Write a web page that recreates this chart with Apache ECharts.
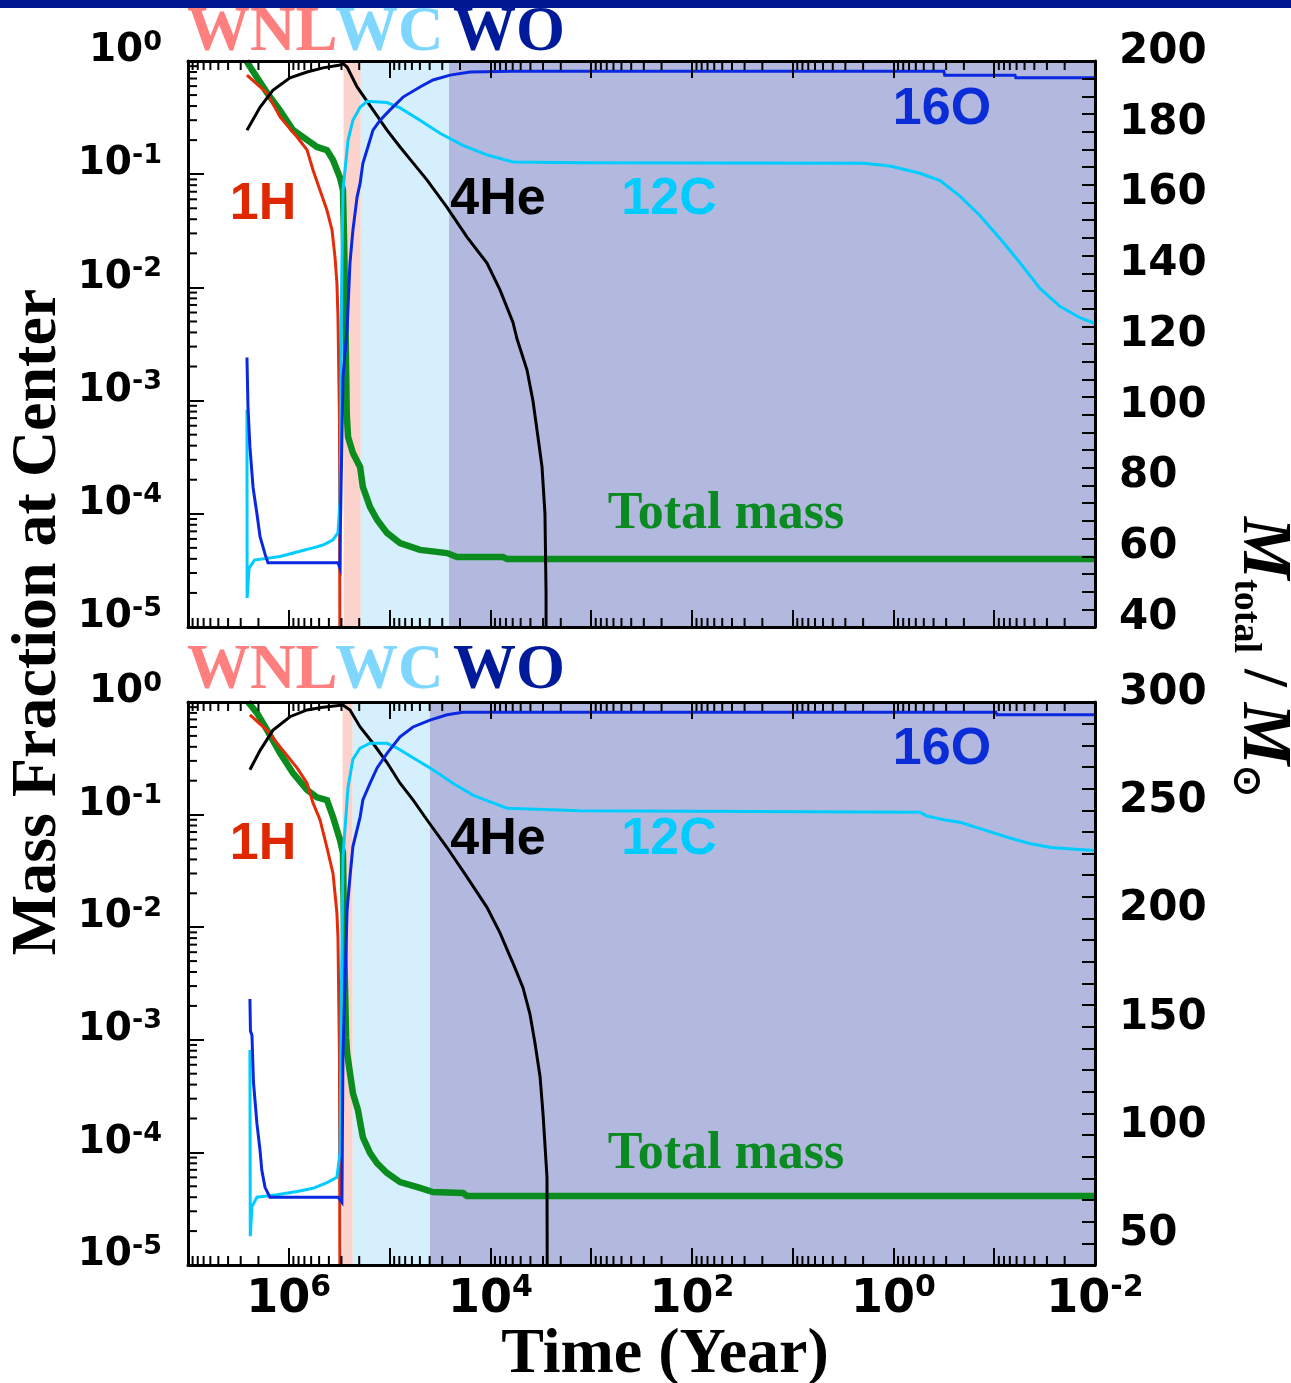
<!DOCTYPE html>
<html>
<head>
<meta charset="utf-8">
<script src="https://cdn.jsdelivr.net/npm/echarts@6/dist/echarts.min.js"></script>
<style>
  html, body { margin: 0; padding: 0; background: #ffffff; }
  #chart { width: 1291px; height: 1383px; }
</style>
</head>
<body>
<div id="chart"></div>
<script>
// Central composition and total mass versus time remaining before core collapse.
// Each pair is [time before collapse (yr), value].

// ---- upper model ----
const topH = [[2.60e6,0.75],[1.64e6,0.52],[1.22e6,0.32],[8.28e5,0.213],[6.59e5,0.164],[5.75e5,0.109],[4.90e5,0.072],[4.18e5,0.048],[3.72e5,0.032],[3.48e5,0.0186],[3.33e5,0.011],[3.25e5,0.0055],[3.14e5,6.7e-4],[3.07e5,1e-8]];
const topHe = [[2.60e6,0.245],[1.93e6,0.39],[1.44e6,0.55],[9.73e5,0.71],[6.59e5,0.80],[4.57e5,0.87],[3.10e5,0.92],[2.90e5,0.95],[2.64e5,0.885],[2.10e5,0.59],[1.46e5,0.37],[1.06e5,0.245],[7.87e4,0.174],[5.85e4,0.126],[4.26e4,0.089],[2.69e4,0.051],[1.71e4,0.0279],[1.08e4,0.0164],[8.02e3,0.0095],[5.96e3,0.0049],[5.43e3,0.0035],[4.33e3,0.00187],[3.78e3,1.0e-3],[3.37e3,4.8e-4],[3.07e3,2.6e-4],[2.87e3,1.0e-4],[2.80e3,2e-5],[2.77e3,1e-8]];
const topC = [[2.60e6,8.3e-4],[2.59e6,1.8e-5],[2.48e6,3.3e-5],[2.19e6,3.9e-5],[1.22e6,4.2e-5],[8.28e5,4.6e-5],[5.75e5,5.0e-5],[4.57e5,5.3e-5],[3.64e5,5.9e-5],[3.25e5,6.8e-5],[3.10e5,1.3e-4],[2.99e5,0.01],[2.90e5,0.072],[2.58e5,0.20],[2.31e5,0.30],[1.96e5,0.39],[1.67e5,0.44],[1.06e5,0.43],[7.87e4,0.385],[4.99e4,0.30],[3.16e4,0.23],[1.87e4,0.18],[1.08e4,0.148],[5.96e3,0.128],[1.29e3,0.126],[1.96,0.125],[1.08,0.118],[0.546,0.102],[0.345,0.088],[0.219,0.064],[0.138,0.043],[0.0877,0.027],[0.0555,0.0165],[0.0352,0.0098],[0.0223,0.0068],[0.0141,0.0054],[0.01,0.0048]];
const topO = [[2.60e6,2.4e-3],[2.54e6,8.8e-4],[2.43e6,3.9e-4],[2.26e6,1.7e-4],[2.07e6,1.0e-4],[1.93e6,6.3e-5],[1.72e6,4.4e-5],[1.61e6,3.7e-5],[3.25e5,3.7e-5],[3.10e5,3.3e-5],[3.08e5,7e-5],[2.90e5,1.6e-3],[2.64e5,4.2e-3],[2.47e5,0.0165],[2.31e5,0.032],[2.10e5,0.063],[1.96e5,0.083],[1.84e5,0.125],[1.64e5,0.174],[1.46e5,0.245],[1.24e5,0.30],[9.89e4,0.37],[7.35e4,0.48],[4.99e4,0.59],[3.71e4,0.68],[2.51e4,0.75],[1.59e4,0.80],[5.96e3,0.81],[0.316,0.81],[0.31,0.75],[0.0622,0.75],[0.061,0.71],[0.01,0.71]];
const topMass = [[2.63e6,200],[2.32e6,197.5],[1.64e6,191],[1.22e6,186],[9.08e5,180.5],[6.59e5,177.7],[5.25e5,175.7],[4.18e5,174.8],[3.64e5,172],[3.10e5,167],[2.90e5,163.5],[2.83e5,150],[2.75e5,130],[2.66e5,100],[2.58e5,93.7],[2.31e5,89.2],[1.96e5,85.2],[1.84e5,79.6],[1.56e5,73.9],[1.33e5,70.3],[1.06e5,66.6],[7.87e4,63.7],[4.99e4,61.8],[2.69e4,60.9],[2.14e4,59.8],[7.48e3,59.8],[6.84e3,59.2],[0.01,59.2]];
// Wolf-Rayet phases: [start, end, phase index]
const topStages = [[2.86e5,1.93e5,0],[1.93e5,2.57e4,1],[2.57e4,0.01,2]];

// ---- lower model ----
const botH = [[2.43e6,0.77],[1.64e6,0.56],[1.22e6,0.40],[8.28e5,0.26],[6.59e5,0.19],[5.75e5,0.127],[4.90e5,0.090],[4.18e5,0.051],[3.64e5,0.030],[3.48e5,0.020],[3.33e5,0.0134],[3.25e5,0.0081],[3.14e5,7e-4],[3.07e5,1e-8]];
const botHe = [[2.43e6,0.25],[1.93e6,0.37],[1.44e6,0.56],[9.73e5,0.74],[6.59e5,0.85],[4.57e5,0.90],[2.90e5,0.94],[2.47e5,0.85],[1.96e5,0.60],[1.46e5,0.43],[1.06e5,0.29],[7.87e4,0.19],[5.85e4,0.135],[4.26e4,0.090],[2.69e4,0.051],[1.71e4,0.028],[1.08e4,0.015],[8.02e3,0.0089],[6.38e3,0.0055],[5.96e3,0.0048],[4.74e3,0.0029],[4.05e3,0.0017],[3.61e3,9.4e-4],[3.21e3,4.7e-4],[3.00e3,2.2e-4],[2.74e3,6e-5],[2.68e3,1e-8]];
const botC = [[2.43e6,8.1e-4],[2.41e6,1.8e-5],[2.32e6,3.3e-5],[2.07e6,4.0e-5],[1.31e6,4.2e-5],[8.28e5,4.5e-5],[5.75e5,4.8e-5],[4.18e5,5.4e-5],[3.33e5,6.0e-5],[3.10e5,1.0e-4],[3.00e5,3e-3],[2.90e5,0.042],[2.58e5,0.176],[2.31e5,0.31],[1.96e5,0.39],[1.56e5,0.43],[1.06e5,0.43],[8.43e4,0.39],[5.85e4,0.32],[3.71e4,0.25],[2.35e4,0.19],[1.49e4,0.149],[9.42e3,0.127],[6.84e3,0.114],[1.29e3,0.108],[0.546,0.105],[0.465,0.097],[0.316,0.090],[0.214,0.085],[0.113,0.071],[0.0698,0.062],[0.0432,0.055],[0.0274,0.051],[0.0144,0.049],[0.01,0.048]];
const botO = [[2.43e6,2.3e-3],[2.40e6,1.2e-3],[2.32e6,1.1e-3],[2.24e6,4.2e-4],[2.07e6,1.8e-4],[1.93e6,1.05e-4],[1.85e6,6.9e-5],[1.72e6,4.9e-5],[1.54e6,4.0e-5],[3.25e5,4.0e-5],[2.97e5,3.6e-5],[2.90e5,7.1e-4],[2.64e5,0.014],[2.47e5,0.028],[2.31e5,0.052],[1.96e5,0.095],[1.84e5,0.135],[1.56e5,0.19],[1.33e5,0.26],[1.06e5,0.35],[7.87e4,0.49],[5.85e4,0.60],[3.97e4,0.69],[2.69e4,0.77],[1.87e4,0.81],[0.0962,0.81],[0.094,0.77],[0.01,0.77]];
const botMass = [[2.54e6,300],[2.07e6,295],[1.64e6,287],[1.22e6,276.4],[9.08e5,267.2],[6.59e5,259.4],[5.25e5,256],[4.18e5,254.7],[3.64e5,246.9],[3.10e5,236.3],[2.90e5,230.3],[2.80e5,180],[2.70e5,145],[2.64e5,138],[2.47e5,128.7],[2.31e5,119.4],[2.06e5,111.6],[1.84e5,99],[1.56e5,91.7],[1.33e5,87],[1.06e5,82.5],[7.87e4,78.3],[4.99e4,75.6],[3.71e4,73.7],[1.87e4,73.3],[1.71e4,71.9],[0.01,71.9]];
const botStages = [[2.93e5,2.32e5,0],[2.32e5,3.97e4,1],[3.97e4,0.01,2]];

const stageNames = ['WNL', 'WC', 'WO'];
const speciesNames = ['1H', '4He', '12C', '16O'];

// ---- styling ----
const SANS = "'DejaVu Sans', 'Liberation Sans', sans-serif";
const HELV = "'Liberation Sans', Arial, sans-serif";
const SERIF = "'Liberation Serif', 'Times New Roman', serif";
const stageFill = ['#FBD3CC', '#D5F0FC', '#B3B9DE'];
const stageText = ['#FF7F7F', '#7FD7FF', '#001A99'];
const colH = '#E62B0A', colHe = '#000000', colC = '#00CCFF', colO = '#0A28E0', colM = '#0A8C1E';

const T_MIN = 0.01, T_MAX = 1e7, X_MIN = 1e-5, X_MAX = 1;

const chart = echarts.init(document.getElementById('chart'), null, { renderer: 'canvas' });

function powLabel(v) {
  const e = Math.round(Math.log10(v));
  return '{b|10}{s|' + e + '}';
}

function timeAxis(gridIndex, position, showLabels) {
  return {
    type: 'log', logBase: 10, gridIndex: gridIndex, position: position,
    inverse: true, min: T_MIN, max: T_MAX, interval: 1, z: 10,
    axisLine: { show: true, onZero: false, lineStyle: { color: '#000', width: 3 } },
    axisTick: { show: true, inside: true, length: 17, interval: 0, lineStyle: { color: '#000', width: 2 } },
    minorTick: { show: false },
    splitLine: { show: false },
    axisLabel: {
      show: showLabels, interval: 0, margin: 8,
      formatter: function (v) {
        const e = Math.round(Math.log10(v));
        return (e % 2 === 0) ? powLabel(v) : '';
      },
      rich: {
        b: { fontFamily: SANS, fontWeight: 'bold', fontSize: 46, lineHeight: 54, color: '#000' },
        s: { fontFamily: SANS, fontWeight: 'bold', fontSize: 30, lineHeight: 28, color: '#000', verticalAlign: 'top' }
      }
    }
  };
}

function fractionAxis(gridIndex) {
  return {
    type: 'log', logBase: 10, gridIndex: gridIndex, position: 'left',
    min: X_MIN, max: X_MAX, interval: 1, z: 10,
    axisLine: { show: true, onZero: false, lineStyle: { color: '#000', width: 3 } },
    axisTick: { show: true, inside: true, length: 16, interval: 0, lineStyle: { color: '#000', width: 2 } },
    minorTick: { show: false },
    splitLine: { show: false },
    axisLabel: {
      show: true, interval: 0, margin: 26, padding: [0, 0, 20, 0],
      formatter: powLabel,
      rich: {
        b: { fontFamily: SANS, fontWeight: 'bold', fontSize: 39, lineHeight: 44, color: '#000' },
        s: { fontFamily: SANS, fontWeight: 'bold', fontSize: 27, lineHeight: 26, color: '#000', verticalAlign: 'top' }
      }
    }
  };
}

function massAxis(gridIndex, min, max, step, labelEvery) {
  return {
    type: 'value', gridIndex: gridIndex, position: 'right',
    min: min, max: max, interval: step, z: 10,
    axisLine: { show: true, onZero: false, lineStyle: { color: '#000', width: 3 } },
    axisTick: { show: true, inside: true, length: 13, interval: 0, lineStyle: { color: '#000', width: 2 } },
    splitLine: { show: false },
    axisLabel: {
      show: true, interval: 0, margin: 24,
      verticalAlign: 'bottom', lineHeight: 18,
      fontFamily: SANS, fontWeight: 'bold', fontSize: 42, color: '#000',
      formatter: function (v) { return (Math.round(v) % labelEvery === 0) ? String(Math.round(v)) : ''; }
    }
  };
}

// Logarithmic minor ticks (2..9 of each decade) on the time and fraction axes.
function minorTicks(params, api) {
  const lb = api.coord([T_MAX, X_MIN]);
  const rt = api.coord([T_MIN, X_MAX]);
  const style = { stroke: '#000', lineWidth: 2 };
  const children = [];
  for (let e = -2; e < 7; e++) {
    for (let k = 2; k <= 9; k++) {
      const x = api.coord([k * Math.pow(10, e), X_MIN])[0];
      children.push({ type: 'line', shape: { x1: x, y1: lb[1], x2: x, y2: lb[1] - 9 }, style: style });
      children.push({ type: 'line', shape: { x1: x, y1: rt[1], x2: x, y2: rt[1] + 9 }, style: style });
    }
  }
  for (let e = -5; e < 0; e++) {
    for (let k = 2; k <= 9; k++) {
      const y = api.coord([T_MAX, k * Math.pow(10, e)])[1];
      children.push({ type: 'line', shape: { x1: lb[0], y1: y, x2: lb[0] + 9, y2: y }, style: style });
    }
  }
  return { type: 'group', children: children };
}

// Shaded bands for the Wolf-Rayet phases.
function stageBand(params, api) {
  const p0 = api.coord([api.value(0), X_MAX]);
  const p1 = api.coord([api.value(1), X_MIN]);
  return {
    type: 'rect',
    shape: { x: p0[0], y: p0[1], width: p1[0] - p0[0], height: p1[1] - p0[1] },
    style: { fill: stageFill[api.value(2)] }
  };
}

function line(name, data, xi, yi, color, width, z) {
  return {
    name: name, type: 'line', data: data, xAxisIndex: xi, yAxisIndex: yi,
    showSymbol: false, symbol: 'none', clip: true, z: z, silent: true,
    lineStyle: { color: color, width: width, join: 'miter' }
  };
}

function panelSeries(xi, yi, ym, stages, H, He, C, O, M) {
  return [
    { type: 'custom', xAxisIndex: xi, yAxisIndex: yi, data: stages, renderItem: stageBand, z: 1, silent: true, clip: true },
    line('Total mass', M, xi, ym, colM, 6.5, 2),
    line(speciesNames[0], H, xi, yi, colH, 3, 3),
    line(speciesNames[1], He, xi, yi, colHe, 3, 3),
    line(speciesNames[2], C, xi, yi, colC, 3, 3),
    line(speciesNames[3], O, xi, yi, colO, 3, 3),
    { type: 'custom', xAxisIndex: xi, yAxisIndex: yi, data: [[1, 0.1]], renderItem: minorTicks, z: 12, silent: true, clip: false }
  ];
}

function txt(x, y, text, font, color, extra) {
  return Object.assign({
    type: 'text', x: x, y: y, z: 100, silent: true,
    style: {
      text: text, font: font, fill: color,
      align: 'center', textAlign: 'center', verticalAlign: 'middle', textVerticalAlign: 'middle'
    }
  }, extra || {});
}

function stageTitles(y) {
  return [
    txt(187, y, stageNames[0], "bold 63px " + SERIF, stageText[0]),
    txt(335, y, stageNames[1], "bold 63px " + SERIF, stageText[1]),
    txt(453, y, stageNames[2], "bold 63px " + SERIF, stageText[2])
  ].map(function (g) { g.style.align = 'left'; g.style.textAlign = 'left'; return g; });
}

function speciesLabels(dy) {
  return [
    txt(263, 205 + dy, speciesNames[0], "bold 52px " + HELV, '#E02800'),
    txt(498, 200 + dy, speciesNames[1], "bold 52px " + HELV, '#000000'),
    txt(669, 200 + dy, speciesNames[2], "bold 52px " + HELV, colC),
    txt(942, 110 + dy, speciesNames[3], "bold 52px " + HELV, '#0A2DD8'),
    txt(726, 515 + dy, 'Total mass', "bold 52px " + SERIF, '#0B8A23')
  ];
}

const option = {
  animation: false,
  backgroundColor: '#ffffff',
  grid: [
    { left: 188, top: 61, width: 907, height: 566, containLabel: false },
    { left: 188, top: 702, width: 907, height: 563, containLabel: false }
  ],
  xAxis: [
    timeAxis(0, 'bottom', false),
    timeAxis(0, 'top', false),
    timeAxis(1, 'bottom', true),
    timeAxis(1, 'top', false)
  ],
  yAxis: [
    fractionAxis(0),
    massAxis(0, 40, 200, 5, 20),
    fractionAxis(1),
    massAxis(1, 40, 300, 10, 50)
  ],
  series: [].concat(
    panelSeries(0, 0, 1, topStages, topH, topHe, topC, topO, topMass),
    panelSeries(2, 2, 3, botStages, botH, botHe, botC, botO, botMass)
  ),
  graphic: [
    { type: 'rect', x: 0, y: 0, z: 100, silent: true, shape: { width: 1291, height: 8 }, style: { fill: '#00188F' } }
  ].concat(
    stageTitles(34),
    stageTitles(672),
    speciesLabels(0),
    speciesLabels(640),
    [
      txt(38, 622, 'Mass Fraction at Center', "bold 64px " + SERIF, '#000', { rotation: Math.PI / 2 }),
      txt(665, 1355, 'Time (Year)', "bold 64px " + SERIF, '#000'),
      {
        type: 'text', x: 1262, y: 657, z: 100, silent: true, rotation: -Math.PI / 2,
        style: {
          text: '{m|M}{sub|total}{sl| / }{m|M}{sub|\u2299}',
          align: 'center', textAlign: 'center', verticalAlign: 'middle', textVerticalAlign: 'middle',
          fill: '#000',
          rich: {
            m: { fontFamily: SERIF, fontStyle: 'italic', fontWeight: 'bold', fontSize: 70, lineHeight: 72, fill: '#000', color: '#000' },
            sub: { fontFamily: SERIF, fontWeight: 'bold', fontSize: 38, lineHeight: 40, verticalAlign: 'bottom', fill: '#000', color: '#000' },
            sl: { fontFamily: SERIF, fontWeight: 'bold', fontSize: 64, lineHeight: 72, fill: '#000', color: '#000' }
          }
        }
      }
    ]
  )
};

chart.setOption(option);
</script>
</body>
</html>
